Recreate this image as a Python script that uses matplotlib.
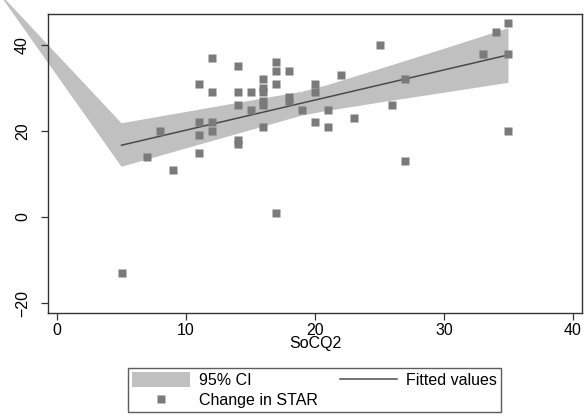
import matplotlib
matplotlib.use("Agg")
import matplotlib.pyplot as plt
from matplotlib.patches import Patch
from matplotlib.lines import Line2D

plt.rcParams["font.family"] = ["Liberation Sans", "DejaVu Sans"]

# scatter: SoCQ2 vs change in STAR
socq2 = [12, 14, 17, 17, 18, 11, 16, 17, 20, 22, 12, 14, 15, 16, 16, 20, 18, 18,
         16, 16, 14, 15, 19, 21, 11, 12, 12, 8, 11, 14, 14, 16, 20, 21, 7, 11, 9,
         17, 5, 35, 34, 25, 33, 35, 27, 26, 23, 35, 27]
star = [37, 35, 36, 34, 34, 31, 32, 31, 31, 33, 29, 29, 29, 30, 29, 29, 28, 27,
        27, 26, 26, 25, 25, 25, 22, 22, 20, 20, 19, 18, 17, 21, 22, 21, 14, 15, 11,
        1, -13, 45, 43, 40, 38, 38, 32, 26, 23, 20, 13]

# fitted line
fit_x = [5, 35]
fit_y = [16.7, 37.7]

# 95% CI band (plus the stray vertex Stata drew off to the upper left)
ci_x = [5, 9, 13, 17, 19, 21, 25, 30, 35]
ci_upper = [21.8, 23.9, 26.0, 28.1, 29.1, 30.7, 34.4, 39.1, 43.9]
ci_lower = [11.7, 15.1, 18.5, 21.9, 23.6, 24.7, 26.6, 28.9, 31.2]
ci_tip = (-4.7, 52.8)

dark = "#333333"

fig = plt.figure(figsize=(5.87, 4.19), dpi=100)
ax = fig.add_axes([0.0818, 0.253, 0.9097, 0.7136])

poly_x = [ci_tip[0]] + ci_x + ci_x[::-1] + [ci_tip[0]]
poly_y = [ci_tip[1]] + ci_upper + ci_lower[::-1] + [ci_tip[1]]
ax.fill(poly_x, poly_y, color="#c0c0c0", lw=0, clip_on=False, zorder=1)
ax.plot(fit_x, fit_y, color="#4a4a4a", lw=1.1, zorder=2)
ax.plot(socq2, star, "s", color="#7a7a7a", ms=5.3, mec="none", zorder=3)

ax.set_xlim(-0.7, 40.7)
ax.set_ylim(-22.3, 47.2)
ax.set_xticks([0, 10, 20, 30, 40])
ax.set_yticks([-20, 0, 20, 40])
ax.tick_params(direction="out", length=5, width=0.9, color=dark, labelsize=11.5)
ax.tick_params(axis="x", pad=2)
ax.tick_params(axis="y", pad=8)
for lab in ax.get_yticklabels():
    lab.set_rotation(90)
    lab.set_va("center")
for s in ax.spines.values():
    s.set_color(dark)
    s.set_linewidth(1.0)
ax.set_xlabel("SoCQ2", fontsize=11.5, labelpad=-1)

handles = [Patch(facecolor="#c0c0c0", edgecolor="none"),
           Line2D([], [], ls="none", marker="s", color="#7a7a7a", ms=5.3, mec="none"),
           Line2D([], [], color="#4a4a4a", lw=1.1)]
labels = ["95% CI", "Change in STAR", "Fitted values"]
leg = fig.legend(handles, labels, ncol=2, loc="center", bbox_to_anchor=(0.536, 0.069),
                 fontsize=11.5, frameon=True, fancybox=False, handlelength=3.6,
                 handleheight=1.1, columnspacing=1.4, labelspacing=0.25,
                 borderpad=0.25, handletextpad=0.55, borderaxespad=0)
leg.get_frame().set_edgecolor(dark)
leg.get_frame().set_linewidth(1.0)

fig.savefig("out.png", dpi=100)
